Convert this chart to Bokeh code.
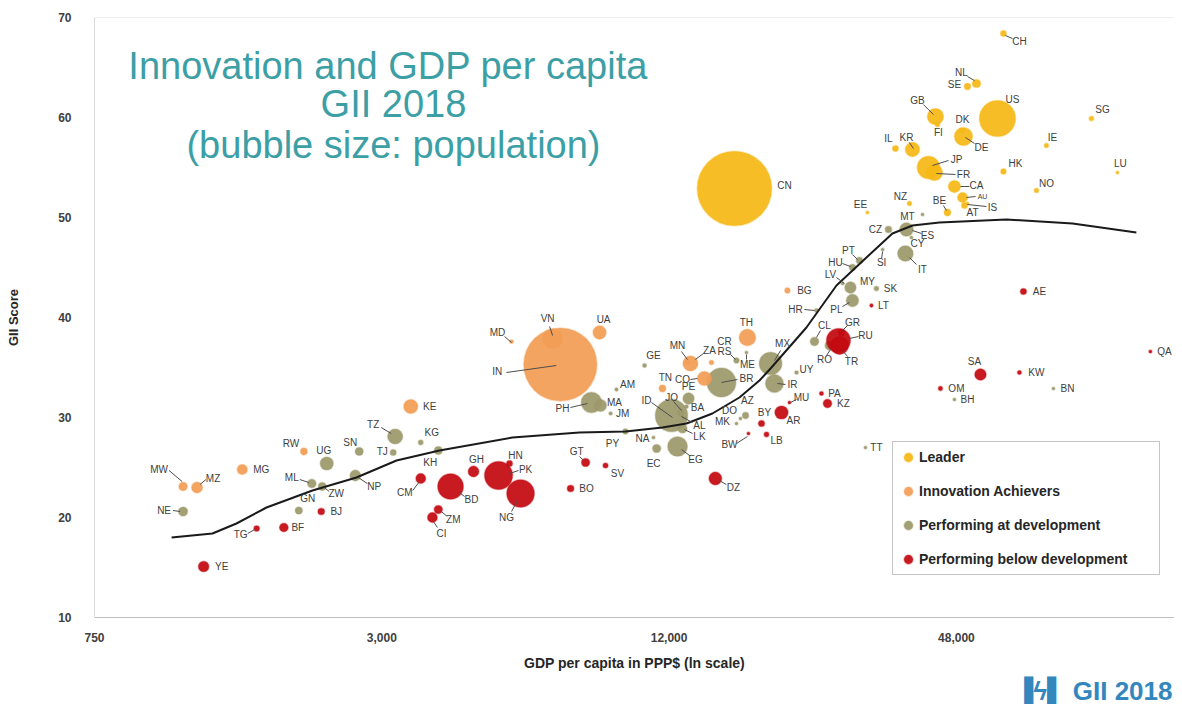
import math
from bokeh.plotting import figure
from bokeh.models import (ColumnDataSource, FixedTicker, NumeralTickFormatter,
                          Legend, LegendItem, Label, Span, Title)
from bokeh.core.properties import value
from bokeh.embed import file_html
from bokeh.resources import INLINE

# ---------------- data ----------------
codes = ["CH", "NL", "SE", "GB", "SG", "US", "FI", "DK", "DE", "IE", "IL", "KR", "JP", "HK",
         "LU", "FR", "CN", "CA", "NO", "AU", "AT", "NZ", "IS", "BE", "EE",
         "MW", "MZ", "MG", "RW", "KE", "MD", "VN", "IN", "UA", "TN", "ZA", "MN", "CR", "TH",
         "CO", "BG",
         "NE", "ML", "UG", "ZW", "GN", "SN", "NP", "TJ", "TZ", "KG", "KH", "PH", "MA", "JM",
         "AM", "GE", "PY", "RS", "ME", "BR", "PE", "JO", "BA", "ID", "AL", "LK", "EG", "EC",
         "NA", "MK", "DO", "AZ", "MX", "IR", "UY", "CL", "RO", "HR", "PL", "LV", "MY", "SK",
         "HU", "PT", "SI", "CZ", "MT", "ES", "CY", "IT", "BN", "BH", "TT",
         "YE", "TG", "BF", "BJ", "CM", "BD", "ZM", "CI", "GH", "HN", "PK", "NG", "GT", "SV",
         "BO", "DZ", "BW", "BY", "LB", "AR", "MU", "PA", "KZ", "RU", "GR", "TR", "LT", "AE",
         "QA", "SA", "KW", "OM"]

gdp = [60230, 52880, 50630, 43380, 92100, 58515, 43800, 49200, 49665, 74120, 35770, 38825,
       41950, 60230, 104400, 43180, 16450, 47550, 70630, 49450, 49910, 38270, 50630, 45970,
       31245,
       1150, 1230, 1530, 2060, 3450, 5610, 6840, 7100, 8580, 11620, 13300, 13110, 14720,
       17510, 14230, 21240,
       1150, 2140, 2300, 2250, 2010, 2690, 2640, 3170, 3200, 3620, 3940, 8250, 8620, 9050,
       9310, 10660, 9720, 16610, 17430, 15450, 13180, 12680, 13050, 12140, 12860, 12800,
       12500, 11300, 11130, 16610, 16930, 17350, 19580, 19950, 22190, 24200, 26020, 24435,
       29070, 27700, 28790, 32630, 29070, 30065, 33620, 34585, 40760, 37720, 38640, 37530,
       76660, 47550, 30950,
       1270, 1640, 1870, 2240, 3620, 4180, 3940, 3830, 4670, 5555, 5270, 5860, 8020, 8830,
       7460, 15000, 17600, 18740, 19200, 20640, 21450, 25030, 25770, 27170, 27570, 27310,
       31855, 66330, 122400, 53910, 65060, 44440]

score = [68.4, 63.4, 63.1, 60.1, 59.9, 59.9, 59.3, 58.7, 58.1, 57.2, 56.9, 56.8, 55.0, 54.6,
         54.5, 54.5, 52.9, 53.1, 52.7, 52.0, 51.2, 51.4, 51.4, 50.5, 50.5,
         23.1, 23.0, 24.8, 26.6, 31.1, 37.6, 37.9, 35.3, 38.5, 32.9, 35.4, 35.5, 35.5, 38.0,
         33.9, 42.7,
         20.6, 23.4, 25.4, 23.1, 20.7, 26.6, 24.2, 26.5, 28.1, 27.5, 26.7, 31.5, 31.2, 30.4,
         32.8, 35.2, 28.6, 35.7, 36.5, 33.5, 31.9, 30.5, 31.1, 30.2, 30.0, 28.9, 27.1, 26.9,
         28.0, 29.4, 29.9, 30.2, 35.4, 33.4, 34.5, 37.6, 37.2, 40.7, 41.7, 43.4, 43.0, 42.9,
         45.0, 45.7, 46.8, 48.8, 50.3, 48.8, 48.0, 46.4, 32.9, 31.8, 27.0,
         15.1, 18.9, 19.0, 20.6, 23.9, 23.1, 20.8, 20.0, 24.6, 25.4, 24.2, 22.4, 25.5, 25.2,
         22.9, 23.9, 28.4, 29.4, 28.3, 30.5, 31.5, 32.4, 31.4, 37.7, 38.5, 37.2, 41.2, 42.6,
         36.6, 34.3, 34.5, 32.9]

# population in millions (bubble size)
pop = [8.5, 17.1, 10.1, 66, 5.6, 327, 5.5, 5.7, 82.5, 4.8, 8.7, 51.4, 127, 7.4, 0.6, 65,
       1390, 37, 5.3, 25, 8.8, 4.8, 0.35, 11.4, 1.3,
       18, 30, 26, 12, 50, 3.5, 95, 1340, 44, 11.5, 57, 3.1, 5, 69, 49, 7,
       21, 18, 43, 16, 13, 16, 29, 9, 57, 6, 16, 105, 36, 3, 3, 3.9, 7, 7, 0.6, 209, 32, 10,
       3.5, 264, 2.9, 21, 97, 17, 2.5, 2.1, 2, 10, 129, 81, 3.5, 18, 20, 4.1, 38, 1.9, 32,
       5.4, 9.8, 10.3, 2.1, 10.6, 0.5, 46, 1.2, 60, 0.4, 1.5, 1.4,
       28, 8, 19, 11, 24, 165, 17, 24, 29, 9, 197, 191, 17, 6.4, 11, 41, 2.3, 9.5, 6, 44,
       1.3, 4.1, 18, 144, 11, 80, 2.8, 9.4, 2.6, 33, 4.1, 4.6]

group = (["Leader"] * 25 + ["Innovation Achievers"] * 16 +
         ["Performing at development"] * 53 + ["Performing below development"] * 32)

trend_gdp = [1088, 1325, 1488, 1720, 2147, 2655, 3221, 3963, 5636, 7787, 9720, 11620, 13050,
             14790, 16850, 18560, 19580, 23280, 26910, 31100, 35250, 38830, 44230, 61120,
             84060, 114400]
trend_score = [18.0, 18.4, 19.4, 21.0, 22.7, 24.0, 25.7, 26.7, 28.0, 28.5, 28.6, 29.0, 29.4,
               30.4, 32.0, 33.7, 34.9, 39.0, 43.2, 46.0, 48.4, 49.2, 49.5, 49.8, 49.4, 48.5]

x_ticks = [750, 3000, 12000, 48000]
y_ticks = [10, 20, 30, 40, 50, 60, 70]

title_lines = ["Innovation  and GDP per capita", "GII 2018", "(bubble size: population)"]

# ---------------- layout / style (not data) ----------------
groups = ["Leader", "Innovation Achievers", "Performing at development",
          "Performing below development"]
colors = {"Leader": "#F5B816", "Innovation Achievers": "#F29D55",
          "Performing at development": "#9C996A", "Performing below development": "#C40A10"}
draw_order = ["Performing at development", "Performing below development", "Leader",
              "Innovation Achievers"]

# label offsets in pixels (dx right, dy down) from bubble centre
label_off = {
    "CH": (16, 8), "NL": (-15, -11), "SE": (-13, -2), "GB": (-18, -16), "SG": (11, -9),
    "US": (15, -19), "FI": (1, 8), "DK": (1, -11), "DE": (18, 11), "IE": (6, -8),
    "IL": (-7, -10), "KR": (-6, -12), "JP": (28, -8), "HK": (12, -8), "LU": (3, -9),
    "FR": (29, 2), "CN": (50, -3), "CA": (22, -1), "NO": (10, -7), "AU": (20, -1),
    "AT": (8, 7), "NZ": (-9, -7), "IS": (25, 4), "BE": (-8, -12), "EE": (-7, -8),
    "MW": (-24, -17), "MZ": (16, -9), "MG": (19, 0), "RW": (-13, -8), "KE": (19, 0),
    "MD": (-14, -9), "VN": (-5, -20), "IN": (-63, 7), "UA": (4, -13), "TN": (3, -11),
    "ZA": (19, -13), "MN": (-10, -17), "CR": (13, -21), "TH": (-1, -15), "CO": (-22, 1),
    "BG": (17, 0),
    "NE": (-19, -1), "ML": (-20, -6), "UG": (-3, -13), "ZW": (14, 7), "GN": (9, -12),
    "SN": (-9, -9), "NP": (19, 11), "TJ": (-11, -1), "TZ": (-22, -12), "KG": (11, -10),
    "KH": (-8, 12), "PH": (-29, 6), "MA": (14, -3), "JM": (12, 0), "AM": (11, -5),
    "GE": (9, -10), "PY": (-13, 12), "RS": (-12, -9), "ME": (1, 12), "BR": (25, -4),
    "PE": (0, -12), "JO": (-9, -15), "BA": (11, 1), "ID": (-25, -15), "AL": (16, 8),
    "LK": (17, 8), "EG": (18, 13), "EC": (-3, 15), "NA": (-11, 1), "MK": (-14, -2),
    "DO": (-11, -8), "AZ": (2, -15), "MX": (12, -20), "IR": (18, 1), "UY": (10, -3),
    "CL": (10, -16), "RO": (-5, 14), "HR": (-21, -1), "PL": (-16, 9), "LV": (-12, -9),
    "MY": (17, -6), "SK": (14, 0), "HU": (-17, -5), "PT": (-11, -10), "SI": (-1, 13),
    "CZ": (-13, 0), "MT": (-15, 2), "ES": (21, 6), "CY": (6, 6), "IT": (17, 16),
    "BN": (14, 0), "BH": (13, 0), "TT": (11, 0),
    "YE": (18, 0), "TG": (-16, 6), "BF": (14, 0), "BJ": (15, 0), "CM": (-16, 14),
    "BD": (21, 13), "ZM": (15, 10), "CI": (9, 16), "GH": (3, -12), "HN": (6, -8),
    "PK": (27, -6), "NG": (-14, 24), "GT": (-9, -11), "SV": (12, 8), "BO": (16, 0),
    "DZ": (18, 9), "BW": (-19, 11), "BY": (3, -11), "LB": (10, 6), "AR": (12, 8),
    "MU": (12, -5), "PA": (13, 0), "KZ": (16, 0), "RU": (27, -5), "GR": (11, -10),
    "TR": (12, 16), "LT": (12, 0), "AE": (16, 0), "QA": (14, 0), "SA": (-6, -13),
    "KW": (17, 0), "OM": (16, 0)}

# leader lines: pixel offsets (dx1, dy1, dx2, dy2) from bubble centre
leader_off = {
    "IN": (-54, 8, -4, 1), "ID": (-20, -13, 1, 2), "PH": (-21, 5, -4, 1), "BR": (16, -3, 0, 0),
    "JP": (20, -7, 4, -2), "FR": (21, 2, 2, 1), "GB": (-12, -12, -2, -2), "DE": (11, 7, 2, 1),
    "MX": (10, -13, 4, -3), "IR": (11, 1, 3, 0), "VN": (-3, -12, 0, -3),
    "MW": (-14, -16, -1, -5), "MZ": (9, -8, 3, -3), "NE": (-10, -1, -3, 0),
    "TG": (-9, 5, -2, 1), "ML": (-12, -4, -3, -1), "ZW": (7, 5, 2, 1), "NP": (12, 8, 3, 2),
    "TZ": (-14, -9, -4, -3), "CM": (-8, 12, -2, 4), "BD": (14, 10, 9, 6),
    "NG": (-9, 18, -3, 7), "PK": (20, -5, 11, -2), "DZ": (11, 6, 4, 2), "MD": (-7, -5, 0, 1),
    "EG": (12, 9, 4, 3), "AL": (9, 5, -2, -1), "LK": (10, 5, 2, 1), "JO": (-7, -11, 1, -2),
    "CL": (6, -11, 2, -4), "GR": (6, -7, 1, -2), "RO": (-3, 10, 1, 4), "TR": (8, 11, 3, 5),
    "RU": (20, -4, 11, -2), "HR": (-12, -1, -2, 0), "PL": (-10, 6, -3, 2),
    "LV": (-6, -6, 2, 0), "HU": (-10, -4, -2, -1), "PT": (-7, -6, -2, -1),
    "SI": (-1, 9, 0, 2), "ES": (15, 4, 6, 1), "IT": (11, 11, 4, 4), "NL": (-9, -7, -2, -3),
    "CH": (9, 5, 2, 2), "KR": (-3, -7, 1, -1), "CA": (15, 0, 6, 0), "AU": (13, -1, 4, 0),
    "IS": (19, 3, 0, 1), "BE": (-4, -7, -1, -2), "MU": (7, -3, 1, 0),
    "BW": (-12, 10, -1, 3), "MN": (-6, -11, 0, -3), "ZA": (13, -10, 5, -4),
    "RS": (-6, -6, -1, -1), "ME": (0, 7, 0, 2), "CO": (-14, 1, -7, 0),
    "GT": (-6, -6, -2, -2), "ZM": (9, 7, 3, 2), "CI": (5, 10, 1, 4)}

FW, FH = 1080, 600
XMIN, XMAX = 750, 137500
YMIN, YMAX = 10, 70
px_per_ln = FW / math.log(XMAX / XMIN)
px_per_unit = FH / (YMAX - YMIN)
FONT = "Liberation Sans"

p = figure(frame_width=FW, frame_height=FH, x_axis_type="log",
           x_range=(XMIN, XMAX), y_range=(YMIN, YMAX),
           min_border_left=94, min_border_right=0, min_border_top=17, min_border_bottom=10,
           toolbar_location=None, output_backend="svg", background_fill_color="white",
           border_fill_color="white")
p.outline_line_color = None
p.xgrid.visible = False
p.ygrid.visible = False

for ax in (p.xaxis, p.yaxis):
    ax.major_tick_line_color = None
    ax.minor_tick_line_color = None
    ax.major_label_text_font = FONT
    ax.major_label_text_font_style = "bold"
    ax.major_label_text_font_size = "12px"
    ax.major_label_text_color = "#404040"
    ax.axis_label_text_font = FONT
    ax.axis_label_text_font_style = "bold"
    ax.axis_label_text_color = "#262626"

p.xaxis.ticker = FixedTicker(ticks=x_ticks)
p.xaxis.formatter = NumeralTickFormatter(format="0,0")
p.xaxis.axis_label = "GDP per capita in PPP$ (ln scale)"
p.xaxis.axis_label_text_font_size = "14px"
p.xaxis.major_label_standoff = 9
p.xaxis.axis_label_standoff = 10
p.xaxis.axis_line_color = "#bfbfbf"

p.yaxis.ticker = FixedTicker(ticks=y_ticks)
p.yaxis.axis_label = "GII Score"
p.yaxis.axis_label_text_font_size = "13px"
p.yaxis.major_label_standoff = 17
p.yaxis.axis_label_standoff = 34
p.yaxis.axis_line_color = "#d9d9d9"

p.add_layout(Span(location=YMAX, dimension="width", line_color="#dedede", line_width=1))

# bubbles
renderers = {}
for g in draw_order:
    idx = [i for i in range(len(codes)) if group[i] == g]
    idx.sort(key=lambda i: -pop[i])
    src = ColumnDataSource(dict(
        x=[gdp[i] for i in idx], y=[score[i] for i in idx],
        size=[max(2 * math.sqrt(pop[i]), 3.0) for i in idx],
        code=[codes[i] for i in idx]))
    renderers[g] = p.scatter("x", "y", size="size", source=src, fill_color=colors[g],
                             fill_alpha=0.93, line_color=colors[g], line_alpha=0.35,
                             line_width=1.5)

# trend curve
p.line(trend_gdp, trend_score, line_color="#1a1a1a", line_width=2)

# leader lines
x0, y0, x1, y1 = [], [], [], []
for i, c in enumerate(codes):
    if c in leader_off:
        a, b, cc, d = leader_off[c]
        x0.append(gdp[i] * math.exp(a / px_per_ln)); y0.append(score[i] - b / px_per_unit)
        x1.append(gdp[i] * math.exp(cc / px_per_ln)); y1.append(score[i] - d / px_per_unit)
p.segment(x0, y0, x1, y1, line_color="#4d4d4d", line_width=1)

# country labels
lab_src = ColumnDataSource(dict(
    x=gdp, y=score, text=codes,
    xo=[label_off[c][0] for c in codes], yo=[label_off[c][1] for c in codes],
    fs=["7px" if c == "AU" else "10px" for c in codes]))
p.text("x", "y", text="text", source=lab_src, x_offset="xo", y_offset="yo",
       text_align="center", text_baseline="middle", text_font_size="fs",
       text_color="#404040", text_font=value(FONT))

# title (three centred lines)
title_x = 3174
for line, ty in zip(title_lines, [65.2, 61.4, 57.3]):
    p.add_layout(Label(x=title_x, y=ty, text=line, text_align="center",
                       text_baseline="middle", text_font=FONT, text_font_size="38px",
                       text_color="#3d9fa6"))

# legend
legend = Legend(items=[LegendItem(label=g, renderers=[renderers[g]]) for g in groups],
                location=(798, 42), orientation="vertical",
                border_line_color="#8c8c8c", border_line_width=1.5,
                background_fill_color="white", background_fill_alpha=1.0,
                label_text_font=FONT, label_text_font_style="bold",
                label_text_font_size="14px", label_text_color="#262626",
                glyph_width=22, glyph_height=22, label_height=22, label_width=236,
                label_standoff=0, padding=4, spacing=12, margin=0)
p.add_layout(legend)

# GII 2018 logo, below the x axis on the right
p.add_layout(Title(text="▐ϟ▌ GII 2018", align="right", text_font=FONT,
                   text_font_size="26px", text_font_style="bold", text_color="#3487bd",
                   standoff=0, offset=2), "below")

open("out.html", "w").write(file_html(p, INLINE))
